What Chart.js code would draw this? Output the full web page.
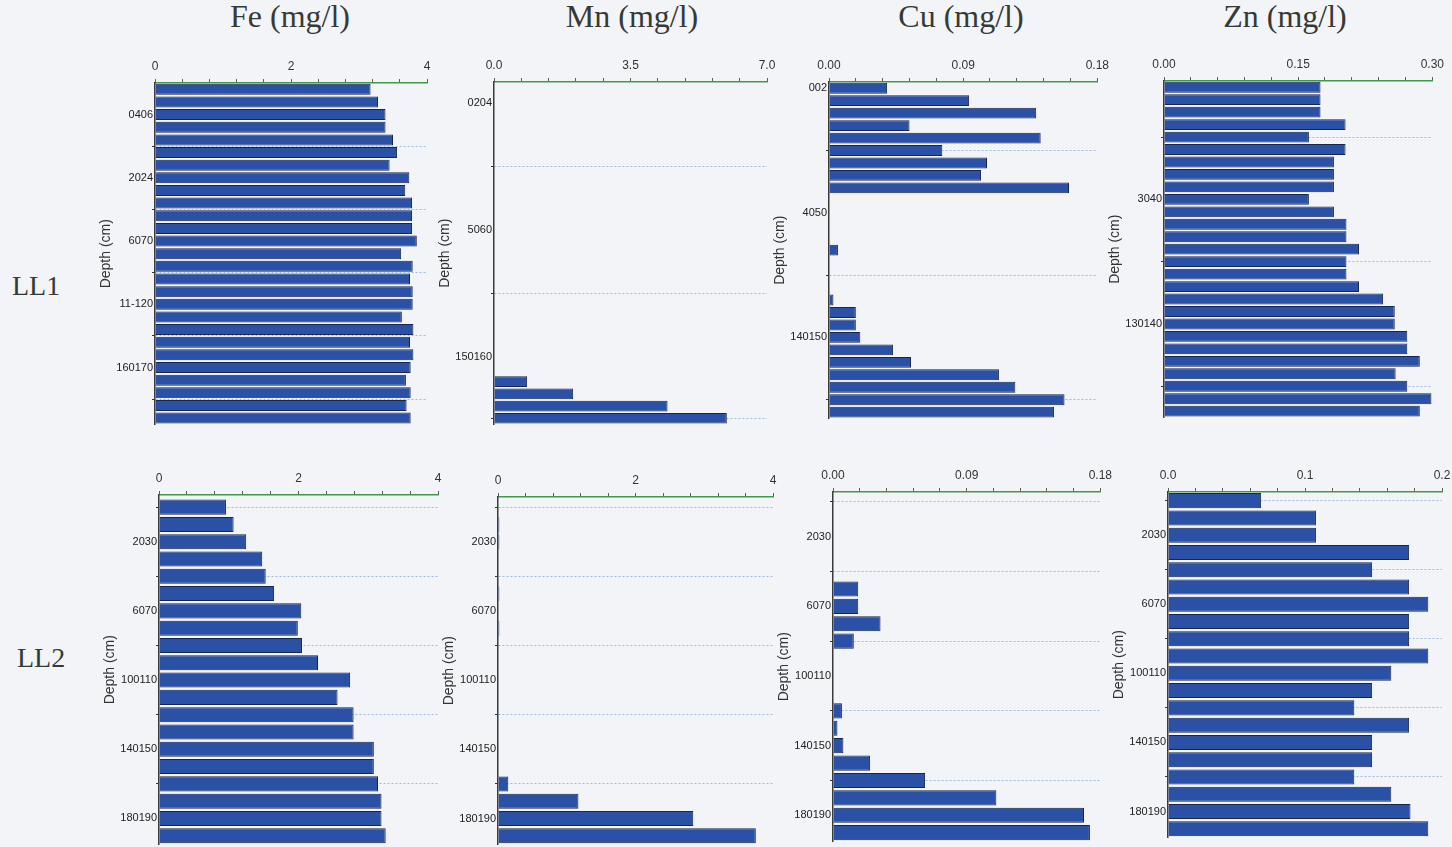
<!DOCTYPE html>
<html>
<head>
<meta charset="utf-8">
<script src="https://cdn.jsdelivr.net/npm/chart.js@4.4.1/dist/chart.umd.min.js"></script>
<style>
  html, body { margin: 0; padding: 0; }
  body {
    width: 1452px; height: 847px; overflow: hidden; position: relative;
    background: #f3f4f8;
  }
  .title {
    position: absolute; top: 0; width: 220px; text-align: center;
    font-family: "Liberation Serif", "Times New Roman", serif;
    font-size: 32px; line-height: 32px; color: #353a36;
  }
  .core {
    position: absolute;
    font-family: "Liberation Serif", "Times New Roman", serif;
    font-size: 28px; line-height: 28px; color: #353a36;
  }
  .panel { position: absolute; }
</style>
</head>
<body>
<div class="title" style="left:180px">Fe (mg/l)</div>
<div class="title" style="left:522px">Mn (mg/l)</div>
<div class="title" style="left:851px">Cu (mg/l)</div>
<div class="title" style="left:1175px">Zn (mg/l)</div>
<div class="core" style="left:12px; top:272px">LL1</div>
<div class="core" style="left:17px; top:644px">LL2</div>

<script>
// ---- values, one per sampled layer, top to bottom ----
const feLL1 = [3.17, 3.28, 3.39, 3.39, 3.50, 3.56, 3.45, 3.74, 3.68, 3.78, 3.78, 3.78, 3.85, 3.62,
  3.79, 3.75, 3.79, 3.79, 3.63, 3.80, 3.75, 3.80, 3.76, 3.69, 3.76, 3.70, 3.76];
const mnLL1 = [0, 0, 0, 0, 0, 0, 0, 0, 0, 0, 0, 0, 0, 0, 0, 0, 0, 0, 0, 0, 0, 0, 0, 0,
  0.85, 2.03, 4.45, 5.97];
const cuLL1 = [0.039, 0.094, 0.139, 0.054, 0.142, 0.076, 0.106, 0.102, 0.161, 0, 0, 0, 0, 0.006,
  0, 0, 0, 0.003, 0.018, 0.018, 0.021, 0.043, 0.055, 0.114, 0.125, 0.158, 0.151];
const znLL1 = [0.175, 0.175, 0.175, 0.203, 0.162, 0.203, 0.190, 0.190, 0.190, 0.162, 0.190, 0.204,
  0.204, 0.218, 0.204, 0.204, 0.218, 0.245, 0.258, 0.258, 0.272, 0.272, 0.286, 0.259, 0.272,
  0.299, 0.286];

const feLL2 = [0.96, 1.07, 1.25, 1.48, 1.53, 1.65, 2.04, 1.99, 2.05, 2.28, 2.74, 2.56, 2.79, 2.79,
  3.08, 3.08, 3.14, 3.19, 3.19, 3.25];
const mnLL2 = [0, 0.02, 0.02, 0, 0, 0.02, 0, 0.02, 0, 0, 0, 0, 0, 0, 0, 0,
  0.15, 1.17, 2.84, 3.75];
const cuLL2 = [0, 0, 0, 0, 0, 0.017, 0.017, 0.032, 0.014, 0, 0, 0, 0.006, 0.003, 0.007, 0.025,
  0.062, 0.110, 0.169, 0.173];
const znLL2 = [0.068, 0.108, 0.108, 0.176, 0.149, 0.176, 0.190, 0.176, 0.176, 0.190, 0.163, 0.149,
  0.136, 0.176, 0.149, 0.149, 0.136, 0.163, 0.177, 0.190];

// ---- depth labels (layer index where each sits) and divider lines ----
const feLL1Depths = ["0406", "2024", "6070", "11-120", "160170"];
const feLL1DepthAt = [2, 7, 12, 17, 22];
const feLL1Lines = [4.5, 9.5, 14.5, 19.5, 24.5];
const mnLL1Depths = ["0204", "5060", "150160"];
const mnLL1DepthAt = [1.2, 11.6, 22.0];
const mnLL1Lines = [6.4, 16.8, 27.0];
const cuLL1Depths = ["002", "4050", "140150"];
const cuLL1DepthAt = [0, 10, 20];
const cuLL1Lines = [5, 15, 25];
const znLL1Depths = ["3040", "130140"];
const znLL1DepthAt = [9, 19];
const znLL1Lines = [4, 14, 24];
const ll2Depths = ["2030", "6070", "100110", "140150", "180190"];
const ll2DepthAt = [2, 6, 10, 14, 18];
const ll2Lines = [0, 4, 8, 12, 16];

// ---- concentration axis labels ----
const feTicks = ["0", "2", "4"];
const mnTicksLL1 = ["0.0", "3.5", "7.0"];
const cuTicks = ["0.00", "0.09", "0.18"];
const znTicksLL1 = ["0.00", "0.15", "0.30"];
const mnTicksLL2 = ["0", "2", "4"];
const znTicksLL2 = ["0.0", "0.1", "0.2"];

const panels = [
  { values: feLL1, max: 4, ticks: feTicks, depths: feLL1Depths, depthAt: feLL1DepthAt, lines: feLL1Lines,
    box: { x0: 155, x1: 427, top: 83, bottom: 428, yMin: -0.5, yMax: 26.5 } },
  { values: mnLL1, max: 7, ticks: mnTicksLL1, depths: mnLL1Depths, depthAt: mnLL1DepthAt, lines: mnLL1Lines,
    box: { x0: 494, x1: 767, top: 82, bottom: 428, yMin: -0.5, yMax: 27.5 } },
  { values: cuLL1, max: 0.18, ticks: cuTicks, depths: cuLL1Depths, depthAt: cuLL1DepthAt, lines: cuLL1Lines,
    box: { x0: 829, x1: 1100, top: 82, bottom: 422, yMin: -0.5, yMax: 26.5 } },
  { values: znLL1, max: 0.3, ticks: znTicksLL1, depths: znLL1Depths, depthAt: znLL1DepthAt, lines: znLL1Lines,
    box: { x0: 1164, x1: 1435, top: 81, bottom: 421, yMin: -0.5, yMax: 26.5 } },
  { values: feLL2, max: 4, ticks: feTicks, depths: ll2Depths, depthAt: ll2DepthAt, lines: ll2Lines,
    box: { x0: 159, x1: 438, top: 495, bottom: 848, yMin: -0.7, yMax: 19.5 } },
  { values: mnLL2, max: 4, ticks: mnTicksLL2, depths: ll2Depths, depthAt: ll2DepthAt, lines: ll2Lines,
    box: { x0: 498, x1: 773, top: 497, bottom: 848, yMin: -0.6, yMax: 19.5 } },
  { values: cuLL2, max: 0.18, ticks: cuTicks, depths: ll2Depths, depthAt: ll2DepthAt, lines: ll2Lines,
    box: { x0: 833, x1: 1103, top: 492, bottom: 845, yMin: -0.57, yMax: 19.5 } },
  { values: znLL2, max: 0.2, ticks: znTicksLL2, depths: ll2Depths, depthAt: ll2DepthAt, lines: ll2Lines,
    box: { x0: 1168, x1: 1442, top: 492, bottom: 841, yMin: -0.5, yMax: 19.5 } },
];

const AXIS_W = 60;   // depth axis strip
const AXIS_H = 30;   // concentration axis strip
const PAD_R = 14;
const PAD_B = 2;
const SANS = '"Liberation Sans", Arial, sans-serif';

function drawPanel(p) {
  const b = p.box;
  const w = b.x1 - b.x0 + AXIS_W + PAD_R;
  const h = b.bottom - b.top + AXIS_H + PAD_B;
  const wrap = document.createElement("div");
  wrap.className = "panel";
  wrap.style.left = (b.x0 - AXIS_W) + "px";
  wrap.style.top = (b.top - AXIS_H) + "px";
  const canvas = document.createElement("canvas");
  canvas.width = w;
  canvas.height = h;
  canvas.style.width = w + "px";
  canvas.style.height = h + "px";
  wrap.appendChild(canvas);
  document.body.appendChild(wrap);

  const isLine = (v) => p.lines.includes(v);
  const labelFor = (v) => {
    const k = p.depthAt.indexOf(v);
    return k >= 0 ? p.depths[k] : "";
  };

  new Chart(canvas, {
    type: "bar",
    data: {
      datasets: [{
        data: p.values.map((v, i) => ({ x: v, y: i })),
        backgroundColor: "#2a51a6",
        borderColor: "#17264f",
        borderWidth: 1,
        barPercentage: 0.87,
        categoryPercentage: 1,
      }],
    },
    options: {
      indexAxis: "y",
      responsive: false,
      animation: false,
      devicePixelRatio: 1,
      layout: { autoPadding: false, padding: { top: 0, left: 0, right: PAD_R, bottom: PAD_B } },
      plugins: { legend: { display: false }, tooltip: { enabled: false } },
      scales: {
        x: {
          type: "linear",
          position: "top",
          min: 0,
          max: p.max,
          afterBuildTicks: (s) => {
            s.ticks = Array.from({ length: 11 }, (_, i) => ({ value: (p.max * i) / 10 }));
          },
          afterFit: (s) => { s.height = AXIS_H; },
          ticks: {
            autoSkip: false,
            maxRotation: 0,
            padding: 5,
            color: "#333",
            font: { size: 12, family: SANS },
            callback: (v, i) => (i % 5 === 0 ? p.ticks[i / 5] : ""),
          },
          grid: { drawOnChartArea: false, tickLength: 4, tickColor: "#4f6a50" },
          border: { color: "#3f9a48", width: 1.5 },
        },
        y: {
          type: "linear",
          reverse: true,
          offset: false,
          min: b.yMin,
          max: b.yMax,
          afterBuildTicks: (s) => {
            s.ticks = [...p.depthAt, ...p.lines].sort((a, c) => a - c).map((v) => ({ value: v }));
          },
          afterFit: (s) => { s.width = AXIS_W; },
          title: {
            display: true,
            text: "Depth (cm)",
            color: "#333",
            font: { size: 14, family: SANS },
            padding: { top: 3, bottom: 0 },
          },
          ticks: {
            autoSkip: false,
            padding: -1,
            color: "#222",
            font: { size: 11, family: SANS },
            callback: (v) => labelFor(v),
          },
          grid: {
            offset: false,
            lineWidth: 1,
            tickLength: 3,
            color: (ctx) => (ctx.tick && isLine(ctx.tick.value) ? "#9dbadb" : "rgba(0,0,0,0)"),
            tickColor: (ctx) => (ctx.tick && isLine(ctx.tick.value) ? "#333" : "rgba(0,0,0,0)"),
          },
          border: { color: "#3a3a3a", width: 1.5, dash: [2, 2] },
        },
      },
    },
  });
}

panels.forEach(drawPanel);
</script>
</body>
</html>
